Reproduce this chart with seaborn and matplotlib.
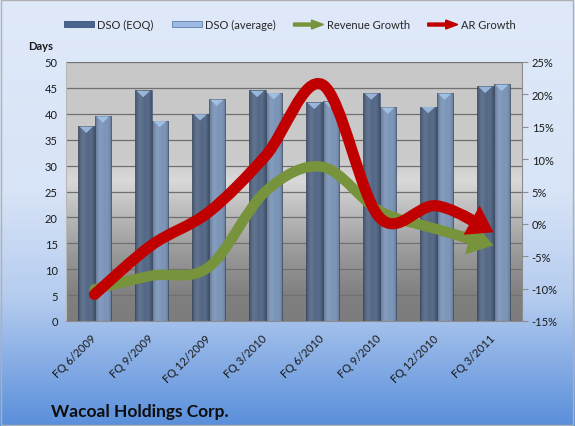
import numpy as np
import pandas as pd
import seaborn as sns
import matplotlib
matplotlib.use('Agg')
from matplotlib import pyplot as plt
from matplotlib.path import Path
from matplotlib.colors import LinearSegmentedColormap
import matplotlib.patches as mpatches
from matplotlib.legend_handler import HandlerPatch

# data
quarters = ['FQ 6/2009', 'FQ 9/2009', 'FQ 12/2009', 'FQ 3/2010',
            'FQ 6/2010', 'FQ 9/2010', 'FQ 12/2010', 'FQ 3/2011']
dso_eoq = [37.6, 44.5, 40.0, 44.5, 42.2, 44.0, 41.4, 45.3]
dso_avg = [39.6, 38.7, 42.8, 44.1, 42.4, 41.3, 44.0, 45.7]
revenue_growth = [-10.1, -8.0, -6.7, 5.0, 8.8, 2.0, -0.8, -3.3]
ar_growth = [-10.9, -3.3, 1.8, 10.5, 21.5, 1.0, 2.8, -1.3]

EOQ_COL = '#49658f'
AVG_COL = '#6f93c3'
GREEN = '#77933c'
RED = '#c00000'

sns.set_style('white')
plt.rcParams['font.family'] = ['Lato', 'DejaVu Sans']
plt.rcParams['font.size'] = 8

fig = plt.figure(figsize=(5.75, 4.27), dpi=100)

# blue figure background
bg = fig.add_axes([0, 0, 1, 1], zorder=-10)
bg_cmap = LinearSegmentedColormap.from_list(
    'bg', [(0, '#dfe9f9'), (0.45, '#d8e4f7'), (0.7, '#b5ccef'), (1, '#5a8fdb')])
bg.imshow(np.linspace(0, 1, 256)[:, None], aspect='auto', cmap=bg_cmap,
          extent=[0, 1, 0, 1])
bg.add_patch(mpatches.Rectangle((0.002, 0.003), 0.995, 0.994, fill=False,
                                ec='#b0b0b0', lw=1, transform=bg.transAxes))
bg.set_axis_off()

ax = fig.add_axes([66 / 575, 1 - 322 / 427, 456 / 575, 259 / 427])

# grey plot area gradient
pa_cmap = LinearSegmentedColormap.from_list(
    'pa', [(0, '#c7c7c7'), (0.38, '#cbcbcb'), (0.46, '#d9d9d9'),
           (0.55, '#c2c2c2'), (0.75, '#979797'), (0.9, '#808080'), (1, '#7c7c7c')])
ax.imshow(np.linspace(0, 1, 256)[:, None], aspect='auto', cmap=pa_cmap,
          extent=[-0.5, 7.5, 0, 50], zorder=-2)

df = pd.DataFrame({
    'quarter': quarters * 2,
    'series': ['DSO (EOQ)'] * len(quarters) + ['DSO (average)'] * len(quarters),
    'days': dso_eoq + dso_avg,
})
sns.barplot(data=df, x='quarter', y='days', hue='series', order=quarters,
            palette={'DSO (EOQ)': EOQ_COL, 'DSO (average)': AVG_COL},
            width=0.58, gap=0, edgecolor='#3b5276', linewidth=0.4,
            legend=False, ax=ax)

# cylinder shading on each bar
shade = LinearSegmentedColormap.from_list(
    'shade', [(0, (0, 0, 0, 0.25)), (0.35, (1, 1, 1, 0.08)),
              (0.6, (1, 1, 1, 0.0)), (1, (0, 0, 0, 0.22))])
for p in list(ax.patches):
    x0, w, h = p.get_x(), p.get_width(), p.get_height()
    im = ax.imshow(np.linspace(0, 1, 64)[None, :], aspect='auto', cmap=shade,
                   extent=[x0, x0 + w, 0, h], zorder=2)
    im.set_clip_path(p)
    cap = mpatches.Polygon([[x0 + w * 0.1, h - 0.1], [x0 + w * 0.5, h - 1.3],
                            [x0 + w * 0.9, h - 0.1]], closed=True,
                           fc='#a9c9ee', ec='none', alpha=0.8, zorder=3)
    ax.add_patch(cap)

ax.set_xlim(-0.5, 7.5)
ax.set_ylim(0, 50)
ax.set_yticks(range(0, 55, 5))
ax.set_xlabel('')
ax.set_ylabel('')
ax.yaxis.grid(True, color='#707070', lw=0.9)
ax.set_axisbelow(True)
ax.set_xticks(range(len(quarters)))
ax.set_xticklabels(quarters, rotation=45, ha='right', va='center',
                   rotation_mode='anchor')
ax.set_xticks(np.arange(-0.5, 8, 1), minor=True)
ax.tick_params(axis='x', which='major', length=0, pad=11, labelsize=8,
               colors='#1a1a1a')
ax.tick_params(axis='x', which='minor', length=4, color='#8c8c8c', width=0.8)
ax.tick_params(axis='y', length=0, pad=6, labelsize=8, colors='#1a1a1a')
for s in ['top', 'right']:
    ax.spines[s].set_visible(False)
ax.spines['left'].set_color('#b8b8b8')
ax.spines['bottom'].set_color('#8c8c8c')

ax2 = ax.twinx()
ax2.set_ylim(-15, 25)
ax2.set_yticks(range(-15, 30, 5))
ax2.set_yticklabels([f'{v}%' for v in range(-15, 30, 5)])
ax2.tick_params(axis='y', length=4, color='#8c8c8c', labelsize=8,
                colors='#1a1a1a', pad=3)
for s in ['top', 'left', 'bottom']:
    ax2.spines[s].set_visible(False)
ax2.spines['right'].set_color('#8c8c8c')


def bez_point(p0, c1, c2, p1, t):
    return ((1 - t) ** 3 * p0 + 3 * (1 - t) ** 2 * t * c1
            + 3 * (1 - t) * t ** 2 * c2 + t ** 3 * p1)


def smooth_arrow(axis, values, color, lw, cut=0.66, start=0.4):
    pts = np.column_stack([np.arange(len(values)), values]).astype(float)
    ext = np.vstack([pts[0], pts, pts[-1]])
    verts = [pts[0]]
    codes = [Path.MOVETO]
    n = len(pts)
    for i in range(n - 1):
        p0, p1, p2, p3 = ext[i], ext[i + 1], ext[i + 2], ext[i + 3]
        c1 = p1 + (p2 - p0) / 6
        c2 = p2 - (p3 - p1) / 6
        if i == n - 2:
            # keep the first part of the last segment (de Casteljau split)
            t = cut
            a = p1 + t * (c1 - p1)
            b = c1 + t * (c2 - c1)
            c = c2 + t * (p2 - c2)
            d = a + t * (b - a)
            e = b + t * (c - b)
            f = d + t * (e - d)
            verts += [a, d, f]
            tail = bez_point(p1, c1, c2, p2, start)
        else:
            verts += [c1, c2, p2]
        codes += [Path.CURVE4] * 3
    shaft = mpatches.PathPatch(Path(verts, codes), fill=False, ec=color, lw=lw,
                               capstyle='round', joinstyle='round', zorder=5)
    axis.add_patch(shaft)
    head = mpatches.FancyArrowPatch(
        posA=tuple(tail), posB=tuple(pts[-1]),
        arrowstyle=mpatches.ArrowStyle.Simple(head_length=18, head_width=24,
                                              tail_width=lw),
        mutation_scale=1, shrinkA=0, shrinkB=0, fc=color, ec='none', lw=0,
        zorder=5)
    axis.add_patch(head)


smooth_arrow(ax2, revenue_growth, GREEN, 7.5)
smooth_arrow(ax2, ar_growth, RED, 8)


# legend
def make_arrow(legend, orig_handle, xdescent, ydescent, width, height, fontsize):
    return mpatches.FancyArrow(0, 0.5 * height, width, 0,
                               length_includes_head=True, width=0.5 * height,
                               head_width=1.5 * height, head_length=0.4 * width)


handles = [
    mpatches.Rectangle((0, 0), 1, 1, fc=EOQ_COL, ec='#3b5276', lw=0.6),
    mpatches.Rectangle((0, 0), 1, 1, fc='#9dbbe2', ec='#5f7fae', lw=0.6),
    mpatches.FancyArrow(0, 0, 1, 0, color=GREEN),
    mpatches.FancyArrow(0, 0, 1, 0, color=RED),
]
labels = ['DSO (EOQ)', 'DSO (average)', 'Revenue Growth', 'AR Growth']
fig.legend(handles, labels, loc='center', bbox_to_anchor=(290 / 575, 1 - 25 / 427),
           ncol=4, frameon=False, fontsize=8, handlelength=2.7,
           handleheight=0.45, handletextpad=0.3, columnspacing=1.6,
           handler_map={mpatches.FancyArrow: HandlerPatch(patch_func=make_arrow)})

fig.text(28 / 575, 1 - 47 / 427, 'Days', fontsize=8, fontweight='bold',
         va='center', ha='left', color='#1a1a1a')
fig.text(51 / 575, 1 - 417 / 427, 'Wacoal Holdings Corp.', fontsize=12.5,
         fontweight='bold', va='baseline', ha='left', color='#0d0d0d')

fig.savefig('out.png', dpi=100)
